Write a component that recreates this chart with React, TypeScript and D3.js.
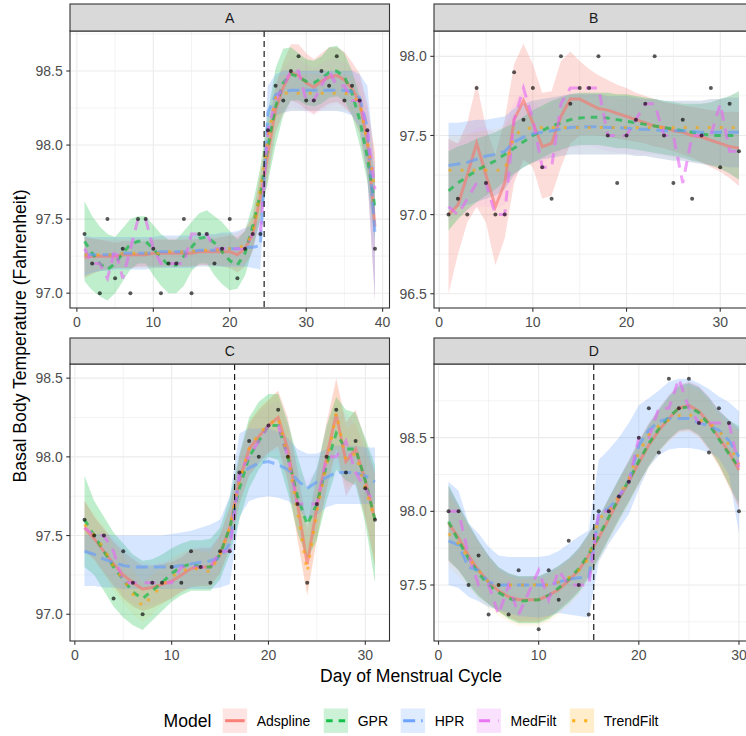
import React from "react";
import * as d3 from "d3";

const MODELS = ["Adspline", "GPR", "HPR", "MedFilt", "TrendFilt"];
const MODEL_COLORS = ["#F8766D", "#00BA38", "#619CFF", "#E76BF3", "#FFA500"];
const MODEL_DASH = ["", "6.5 6", "12 6", "11 8", "3 9"];
const RIBBON_OPACITY = [0.25, 0.25, 0.25, 0.07, 0.07];

// ---------------- Panel A ----------------
const A_days = [1,2,3,4,5,6,7,8,9,10,11,12,13,14,15,16,17,18,19,20,21,22,23,24,25,26,27,28,29,30,31,32,33,34,35,36,37,38,39];
const A_temp = [97.4,97.2,97.0,97.5,97.1,97.3,97.0,97.5,97.5,97.3,97.0,97.2,97.2,97.5,97.0,97.4,97.4,97.2,97.3,97.5,97.1,97.3,97.4,97.4,98.1,98.4,98.3,98.5,98.6,98.3,98.3,98.5,98.4,98.6,98.3,98.4,98.3,98.1,97.3];
const A_ad = [97.24,97.25,97.25,97.25,97.25,97.26,97.26,97.26,97.26,97.27,97.27,97.27,97.27,97.27,97.27,97.28,97.28,97.28,97.28,97.28,97.26,97.30,97.40,97.65,97.94,98.24,98.39,98.49,98.47,98.42,98.39,98.43,98.46,98.47,98.44,98.38,98.29,98.03,97.45];
const A_ad_lo = [97.10,97.13,97.15,97.16,97.17,97.17,97.17,97.18,97.18,97.18,97.18,97.18,97.18,97.18,97.18,97.19,97.19,97.19,97.18,97.17,97.14,97.18,97.28,97.50,97.78,98.08,98.22,98.30,98.28,98.24,98.21,98.25,98.28,98.29,98.26,98.20,98.08,97.78,96.95];
const A_ad_hi = [97.38,97.37,97.36,97.35,97.34,97.35,97.35,97.35,97.35,97.36,97.36,97.36,97.36,97.36,97.36,97.37,97.37,97.37,97.38,97.39,97.38,97.42,97.52,97.80,98.10,98.40,98.56,98.68,98.68,98.62,98.58,98.62,98.66,98.66,98.63,98.56,98.48,98.28,97.95];
const A_gpr = [97.35,97.27,97.20,97.16,97.20,97.27,97.33,97.35,97.35,97.30,97.24,97.19,97.19,97.25,97.31,97.37,97.38,97.34,97.28,97.22,97.19,97.27,97.45,97.67,97.99,98.26,98.42,98.48,98.46,98.43,98.42,98.45,98.49,98.50,98.46,98.35,98.17,97.92,97.58];
const A_gpr_lo = [97.08,97.02,96.98,96.95,97.00,97.08,97.16,97.20,97.20,97.12,97.05,97.00,97.00,97.05,97.15,97.20,97.20,97.12,97.06,97.02,97.03,97.12,97.30,97.50,97.75,98.00,98.20,98.30,98.30,98.27,98.26,98.28,98.32,98.33,98.30,98.20,98.00,97.75,97.35];
const A_gpr_hi = [97.62,97.52,97.45,97.40,97.38,97.44,97.50,97.52,97.52,97.46,97.40,97.36,97.36,97.42,97.48,97.54,97.56,97.52,97.48,97.42,97.36,97.42,97.60,97.85,98.22,98.52,98.65,98.66,98.62,98.58,98.57,98.60,98.66,98.67,98.62,98.50,98.33,98.08,97.80];
const A_hpr = [97.26,97.26,97.26,97.26,97.26,97.27,97.27,97.27,97.27,97.27,97.28,97.28,97.28,97.28,97.28,97.29,97.29,97.29,97.30,97.30,97.30,97.31,97.31,97.32,98.22,98.34,98.36,98.37,98.37,98.37,98.37,98.37,98.37,98.37,98.37,98.36,98.32,98.12,97.40];
const A_hpr_lo = [97.12,97.14,97.15,97.15,97.16,97.16,97.16,97.16,97.16,97.17,97.17,97.17,97.17,97.17,97.17,97.18,97.18,97.18,97.18,97.18,97.18,97.18,97.17,97.16,98.05,98.20,98.22,98.23,98.23,98.23,98.23,98.23,98.23,98.23,98.22,98.20,98.12,97.80,96.95];
const A_hpr_hi = [97.39,97.38,97.38,97.38,97.38,97.38,97.38,97.38,97.38,97.38,97.39,97.39,97.39,97.39,97.39,97.40,97.40,97.40,97.41,97.41,97.42,97.44,97.46,97.50,98.40,98.48,98.50,98.50,98.50,98.50,98.50,98.50,98.50,98.50,98.50,98.50,98.48,98.40,97.85];
const A_med = [97.3,97.2,97.2,97.1,97.3,97.1,97.3,97.5,97.5,97.3,97.2,97.2,97.2,97.2,97.4,97.4,97.4,97.3,97.3,97.3,97.3,97.3,97.4,97.4,98.1,98.3,98.4,98.5,98.5,98.3,98.3,98.4,98.5,98.4,98.4,98.3,98.3,98.1,97.7];
const A_med_lo = [97.12,97.14,97.15,97.16,97.17,97.17,97.17,97.18,97.18,97.18,97.18,97.18,97.18,97.18,97.18,97.19,97.19,97.19,97.18,97.18,97.17,97.20,97.30,97.52,97.80,98.10,98.20,98.26,98.25,98.22,98.20,98.23,98.26,98.27,98.25,98.20,98.08,97.80,96.95];
const A_med_hi = [97.38,97.37,97.36,97.36,97.36,97.36,97.36,97.37,97.37,97.37,97.37,97.37,97.37,97.37,97.38,97.39,97.39,97.39,97.40,97.40,97.41,97.44,97.54,97.80,98.10,98.40,98.52,98.58,98.58,98.55,98.52,98.55,98.58,98.58,98.56,98.52,98.45,98.25,97.90];
const A_trend = [97.26,97.26,97.26,97.26,97.26,97.27,97.27,97.27,97.27,97.27,97.27,97.28,97.28,97.28,97.28,97.29,97.29,97.29,97.30,97.30,97.31,97.32,97.40,97.70,98.05,98.32,98.35,98.35,98.35,98.35,98.35,98.35,98.35,98.35,98.35,98.34,98.28,98.02,97.70];
const A_trend_lo = [97.14,97.15,97.16,97.16,97.17,97.17,97.17,97.17,97.17,97.17,97.17,97.18,97.18,97.18,97.18,97.18,97.18,97.18,97.19,97.19,97.19,97.20,97.28,97.55,97.88,98.18,98.22,98.23,98.23,98.23,98.23,98.23,98.23,98.23,98.23,98.22,98.14,97.85,97.45];
const A_trend_hi = [97.38,97.37,97.37,97.37,97.37,97.37,97.37,97.37,97.37,97.37,97.38,97.38,97.38,97.38,97.38,97.39,97.39,97.39,97.40,97.40,97.41,97.44,97.52,97.85,98.20,98.46,98.48,98.48,98.48,98.48,98.48,98.48,98.48,98.48,98.48,98.47,98.42,98.20,97.95];

// ---------------- Panel B ----------------
const B_days = [1,2,3,4,5,6,7,8,9,10,11,12,13,14,15,16,17,18,19,20,21,22,23,24,25,26,27,28,29,30,31,32];
const B_temp = [97.0,97.1,97.0,97.8,97.2,97.0,97.0,97.9,97.6,97.8,97.3,97.1,98.0,97.7,97.8,97.8,98.0,97.5,97.2,97.5,97.6,97.7,98.0,97.5,97.2,97.6,97.1,97.5,97.8,97.3,97.7,97.4];
const B_ad = [97.00,97.06,97.25,97.45,97.25,97.05,97.20,97.60,97.72,97.58,97.43,97.45,97.62,97.73,97.73,97.70,97.67,97.66,97.64,97.62,97.60,97.58,97.56,97.55,97.53,97.52,97.50,97.49,97.47,97.45,97.43,97.42];
const B_ad_lo = [96.50,96.75,96.95,97.05,96.95,96.68,96.85,97.20,97.35,97.30,97.10,97.12,97.30,97.45,97.50,97.50,97.50,97.49,97.48,97.47,97.46,97.45,97.43,97.42,97.40,97.38,97.36,97.33,97.30,97.27,97.23,97.18];
const B_ad_hi = [97.48,97.45,97.58,97.83,97.55,97.38,97.60,97.95,98.08,97.95,97.77,97.78,97.97,98.03,97.97,97.92,97.88,97.85,97.82,97.80,97.77,97.75,97.73,97.71,97.70,97.69,97.68,97.67,97.66,97.65,97.65,97.65];
const B_gpr = [97.15,97.20,97.24,97.28,97.31,97.34,97.38,97.42,97.46,97.50,97.53,97.56,97.58,97.60,97.61,97.615,97.615,97.61,97.60,97.59,97.58,97.57,97.56,97.55,97.54,97.53,97.52,97.51,97.50,97.50,97.50,97.50];
const B_gpr_lo = [96.90,96.97,97.03,97.08,97.12,97.16,97.21,97.26,97.30,97.33,97.36,97.39,97.41,97.43,97.44,97.44,97.44,97.43,97.42,97.42,97.41,97.40,97.39,97.38,97.37,97.36,97.34,97.33,97.31,97.29,97.26,97.22];
const B_gpr_hi = [97.40,97.43,97.45,97.48,97.50,97.52,97.55,97.58,97.62,97.66,97.69,97.72,97.74,97.76,97.77,97.77,97.77,97.77,97.76,97.76,97.75,97.74,97.73,97.72,97.71,97.70,97.70,97.70,97.71,97.73,97.75,97.78];
const B_hpr = [97.31,97.32,97.33,97.35,97.37,97.38,97.40,97.46,97.49,97.51,97.52,97.53,97.54,97.55,97.555,97.555,97.555,97.55,97.55,97.545,97.54,97.54,97.535,97.53,97.53,97.53,97.525,97.52,97.52,97.52,97.52,97.52];
const B_hpr_lo = [97.03,97.05,97.06,97.08,97.10,97.12,97.16,97.25,97.30,97.33,97.35,97.36,97.37,97.38,97.38,97.38,97.38,97.38,97.38,97.38,97.37,97.37,97.36,97.35,97.34,97.34,97.33,97.32,97.31,97.31,97.30,97.30];
const B_hpr_hi = [97.58,97.58,97.59,97.60,97.60,97.61,97.62,97.67,97.70,97.72,97.73,97.74,97.75,97.76,97.76,97.76,97.76,97.75,97.75,97.75,97.74,97.73,97.73,97.72,97.72,97.72,97.72,97.72,97.73,97.73,97.74,97.74];
const B_med = [97.05,97.0,97.1,97.2,97.2,97.0,97.0,97.6,97.8,97.6,97.3,97.3,97.7,97.8,97.8,97.8,97.8,97.5,97.5,97.5,97.6,97.7,97.7,97.5,97.5,97.2,97.5,97.5,97.5,97.7,97.4,97.4];
const B_med_lo = [96.95,96.98,97.02,97.05,97.05,97.04,97.06,97.22,97.33,97.33,97.33,97.36,97.40,97.42,97.43,97.43,97.42,97.40,97.39,97.39,97.38,97.38,97.38,97.37,97.36,97.35,97.34,97.33,97.31,97.29,97.26,97.22];
const B_med_hi = [97.45,97.45,97.50,97.55,97.55,97.52,97.55,97.72,97.78,97.72,97.66,97.70,97.75,97.77,97.77,97.77,97.76,97.74,97.73,97.73,97.73,97.73,97.72,97.71,97.70,97.69,97.69,97.70,97.71,97.73,97.75,97.78];
const B_trend = [97.28,97.28,97.28,97.28,97.28,97.28,97.28,97.50,97.54,97.55,97.55,97.55,97.55,97.55,97.55,97.55,97.55,97.55,97.55,97.55,97.55,97.55,97.55,97.55,97.55,97.55,97.55,97.55,97.55,97.55,97.55,97.55];
const B_trend_lo = [97.05,97.06,97.07,97.08,97.10,97.12,97.16,97.25,97.30,97.33,97.35,97.36,97.37,97.38,97.38,97.38,97.38,97.38,97.38,97.38,97.37,97.37,97.36,97.35,97.34,97.34,97.33,97.32,97.31,97.31,97.30,97.30];
const B_trend_hi = [97.50,97.50,97.51,97.52,97.53,97.54,97.56,97.64,97.69,97.72,97.73,97.74,97.75,97.76,97.76,97.76,97.76,97.75,97.75,97.75,97.74,97.73,97.73,97.72,97.72,97.72,97.72,97.72,97.73,97.73,97.74,97.74];

// ---------------- Panel C ----------------
const C_days = [1,2,3,4,5,6,7,8,9,10,11,12,13,14,15,16,17,18,19,20,21,22,23,24,25,26,27,28,29,30,31];
const C_temp = [97.6,97.5,97.5,97.1,97.4,97.2,97.0,97.2,97.2,97.3,97.2,97.4,97.3,97.2,97.4,97.4,97.9,98.1,98.0,98.2,98.3,98.0,97.7,97.2,97.7,98.0,98.3,97.9,98.1,97.8,97.6];
const C_ad = [97.55,97.48,97.40,97.32,97.25,97.20,97.16,97.17,97.19,97.21,97.25,97.29,97.30,97.30,97.38,97.55,97.85,98.05,98.13,98.20,98.25,98.05,97.70,97.32,97.68,98.00,98.27,97.97,98.05,97.85,97.60];
const C_ad_lo = [97.40,97.35,97.26,97.18,97.10,97.05,97.02,97.04,97.07,97.10,97.14,97.17,97.18,97.18,97.26,97.42,97.70,97.88,97.96,98.03,98.07,97.85,97.48,97.12,97.48,97.80,98.05,97.75,97.85,97.62,97.30];
const C_ad_hi = [97.72,97.62,97.54,97.46,97.40,97.35,97.31,97.31,97.32,97.33,97.36,97.41,97.42,97.42,97.50,97.68,98.00,98.22,98.30,98.36,98.42,98.25,97.92,97.55,97.90,98.22,98.50,98.22,98.30,98.10,97.90];
const C_gpr = [97.60,97.50,97.40,97.30,97.22,97.14,97.10,97.15,97.20,97.26,97.30,97.32,97.30,97.30,97.38,97.55,97.80,98.00,98.10,98.20,98.20,98.00,97.75,97.57,97.70,97.95,98.15,98.05,98.05,97.85,97.60];
const C_gpr_lo = [97.30,97.25,97.15,97.05,96.98,96.93,96.90,96.96,97.02,97.08,97.12,97.15,97.15,97.15,97.22,97.38,97.60,97.80,97.92,98.00,97.98,97.77,97.52,97.35,97.47,97.72,97.92,97.85,97.82,97.58,97.20];
const C_gpr_hi = [97.88,97.72,97.62,97.52,97.45,97.38,97.34,97.35,97.38,97.42,97.45,97.47,97.47,97.48,97.55,97.74,98.02,98.25,98.35,98.40,98.40,98.22,98.00,97.80,97.93,98.20,98.38,98.30,98.28,98.12,97.95];
const C_hpr = [97.40,97.38,97.35,97.33,97.31,97.30,97.30,97.30,97.30,97.30,97.31,97.32,97.33,97.34,97.36,97.45,97.88,97.93,97.96,97.97,97.95,97.92,97.85,97.80,97.84,97.87,97.90,97.90,97.90,97.88,97.84];
const C_hpr_lo = [97.18,97.18,97.17,97.17,97.16,97.16,97.16,97.16,97.16,97.16,97.16,97.16,97.16,97.16,97.17,97.19,97.62,97.72,97.74,97.75,97.74,97.72,97.68,97.60,97.63,97.68,97.70,97.70,97.70,97.70,97.70];
const C_hpr_hi = [97.50,97.51,97.51,97.50,97.50,97.50,97.50,97.50,97.50,97.51,97.52,97.53,97.55,97.57,97.60,97.75,98.15,98.18,98.18,98.18,98.16,98.12,98.05,98.02,98.02,98.05,98.07,98.07,98.07,98.06,98.06];
const C_med = [97.55,97.5,97.5,97.4,97.2,97.2,97.2,97.2,97.2,97.2,97.3,97.3,97.3,97.3,97.4,97.4,97.9,98.0,98.1,98.2,98.2,98.0,97.7,97.7,97.7,98.0,98.0,98.1,97.9,97.8,97.7];
const C_med_lo = [97.40,97.36,97.28,97.20,97.12,97.07,97.05,97.06,97.08,97.11,97.15,97.18,97.19,97.19,97.27,97.43,97.72,97.88,97.96,98.02,98.04,97.84,97.52,97.42,97.52,97.78,97.96,97.82,97.82,97.62,97.35];
const C_med_hi = [97.72,97.62,97.55,97.48,97.42,97.37,97.33,97.32,97.33,97.35,97.38,97.42,97.43,97.43,97.51,97.68,98.02,98.20,98.28,98.33,98.36,98.20,97.92,97.85,97.92,98.18,98.30,98.28,98.20,98.05,97.90];
const C_trend = [97.57,97.50,97.42,97.30,97.22,97.13,97.05,97.12,97.18,97.24,97.27,97.30,97.28,97.27,97.38,97.55,97.85,98.05,98.15,98.20,98.25,98.00,97.65,97.27,97.65,97.95,98.28,97.98,98.02,97.80,97.60];
const C_trend_lo = [97.40,97.34,97.26,97.15,97.07,97.00,96.95,97.00,97.06,97.11,97.15,97.18,97.17,97.16,97.25,97.42,97.70,97.88,97.98,98.03,98.06,97.83,97.47,97.12,97.47,97.78,98.06,97.80,97.83,97.60,97.32];
const C_trend_hi = [97.72,97.64,97.56,97.45,97.37,97.28,97.20,97.25,97.30,97.36,97.39,97.42,97.40,97.39,97.50,97.68,98.00,98.22,98.32,98.37,98.42,98.18,97.85,97.45,97.85,98.15,98.48,98.18,98.22,98.02,97.88];

// ---------------- Panel D ----------------
const D_days = [1,2,3,4,5,6,7,8,10,11,12,13,14,15,16,17,18,19,20,21,22,23,24,25,26,27,28,29,30];
const D_temp = [98.0,98.0,97.5,97.7,97.3,97.5,97.3,97.6,97.2,97.6,97.4,97.8,97.5,97.3,98.0,98.0,98.1,98.2,98.5,98.7,98.4,98.9,98.7,98.9,98.6,98.4,98.7,98.6,98.0];
const D_ad = [97.92,97.82,97.70,97.60,97.52,97.46,97.42,97.40,97.40,97.43,97.47,97.53,97.60,97.70,97.82,97.95,98.08,98.20,98.33,98.45,98.55,98.63,98.70,98.72,98.68,98.60,98.50,98.40,98.28];
const D_ad_lo = [97.66,97.60,97.51,97.43,97.37,97.32,97.28,97.25,97.25,97.28,97.33,97.39,97.46,97.56,97.69,97.82,97.95,98.07,98.19,98.31,98.41,98.48,98.54,98.55,98.51,98.42,98.31,98.17,98.02];
const D_ad_hi = [98.17,98.04,97.91,97.80,97.70,97.62,97.58,97.56,97.56,97.59,97.63,97.68,97.75,97.85,97.96,98.09,98.22,98.35,98.48,98.60,98.70,98.79,98.86,98.88,98.85,98.78,98.69,98.62,98.56];
const D_gpr = [97.93,97.80,97.68,97.58,97.50,97.45,97.41,97.39,97.40,97.43,97.48,97.54,97.61,97.71,97.83,97.96,98.09,98.21,98.34,98.46,98.56,98.64,98.70,98.71,98.67,98.59,98.49,98.39,98.30];
const D_gpr_lo = [97.67,97.60,97.50,97.42,97.37,97.32,97.27,97.24,97.24,97.27,97.32,97.38,97.45,97.55,97.68,97.81,97.94,98.06,98.19,98.31,98.41,98.49,98.55,98.56,98.52,98.43,98.32,98.18,98.05];
const D_gpr_hi = [98.18,98.05,97.92,97.80,97.70,97.62,97.58,97.56,97.56,97.59,97.63,97.68,97.75,97.85,97.96,98.09,98.22,98.34,98.47,98.59,98.69,98.78,98.85,98.87,98.84,98.77,98.68,98.62,98.58];
const D_hpr = [97.80,97.77,97.62,97.60,97.52,97.50,97.50,97.50,97.50,97.50,97.52,97.54,97.55,97.55,97.98,98.02,98.10,98.20,98.45,98.55,98.61,98.63,98.63,98.63,98.60,98.58,98.55,98.48,98.37];
const D_hpr_lo = [97.50,97.48,97.42,97.39,97.35,97.33,97.31,97.29,97.28,97.29,97.31,97.30,97.29,97.28,97.66,97.78,97.88,97.98,98.15,98.30,98.38,98.42,98.43,98.43,98.42,98.40,98.36,98.25,97.85];
const D_hpr_hi = [98.20,98.14,97.92,97.85,97.76,97.70,97.69,97.69,97.69,97.70,97.73,97.78,97.83,97.87,98.35,98.42,98.50,98.60,98.72,98.77,98.82,98.88,98.90,98.90,98.87,98.83,98.78,98.74,98.68];
const D_med = [98.0,98.0,97.7,97.5,97.5,97.3,97.5,97.3,97.6,97.4,97.6,97.5,97.5,97.5,98.0,98.0,98.1,98.2,98.5,98.5,98.7,98.7,98.9,98.7,98.6,98.6,98.6,98.6,98.3];
const D_med_lo = [97.68,97.61,97.52,97.44,97.38,97.33,97.29,97.26,97.26,97.29,97.34,97.40,97.47,97.57,97.70,97.83,97.96,98.08,98.20,98.32,98.42,98.49,98.55,98.56,98.52,98.43,98.32,98.18,98.04];
const D_med_hi = [98.16,98.04,97.91,97.79,97.69,97.61,97.57,97.55,97.55,97.58,97.62,97.67,97.74,97.84,97.95,98.08,98.21,98.34,98.47,98.59,98.69,98.78,98.85,98.87,98.84,98.77,98.68,98.61,98.56];
const D_trend = [97.85,97.78,97.68,97.60,97.52,97.50,97.50,97.50,97.50,97.50,97.52,97.55,97.60,97.68,97.95,98.00,98.10,98.22,98.40,98.52,98.58,98.62,98.65,98.66,98.62,98.60,98.55,98.45,98.32];
const D_trend_lo = [97.62,97.56,97.48,97.40,97.34,97.29,97.25,97.22,97.22,97.25,97.30,97.36,97.43,97.53,97.66,97.79,97.92,98.04,98.17,98.29,98.39,98.47,98.53,98.54,98.50,98.41,98.30,98.16,98.02];
const D_trend_hi = [98.12,98.02,97.90,97.78,97.68,97.60,97.56,97.54,97.54,97.57,97.61,97.66,97.73,97.83,97.94,98.07,98.20,98.32,98.45,98.57,98.67,98.76,98.83,98.85,98.82,98.75,98.66,98.58,98.54];

// ---------------- Axis / facet config ----------------
const A_xTicks = [0, 10, 20, 30, 40];
const B_xTicks = [0, 10, 20, 30];
const C_xTicks = [0, 10, 20, 30];
const D_xTicks = [0, 10, 20, 30];
const A_yTicks = [97.0, 97.5, 98.0, 98.5];
const B_yTicks = [96.5, 97.0, 97.5, 98.0];
const C_yTicks = [97.0, 97.5, 98.0, 98.5];
const D_yTicks = [97.5, 98.0, 98.5];

const PANELS = [
  { name: "A", col: 0, row: 0, days: A_days, temp: A_temp, vline: 24.5, yDomain: [96.9, 98.77], xTicks: A_xTicks, yTicks: A_yTicks,
    lines: [A_ad, A_gpr, A_hpr, A_med, A_trend],
    ribbons: [[A_ad_lo, A_ad_hi], [A_gpr_lo, A_gpr_hi], [A_hpr_lo, A_hpr_hi], [A_med_lo, A_med_hi], [A_trend_lo, A_trend_hi]] },
  { name: "B", col: 1, row: 0, days: B_days, temp: B_temp, vline: null, yDomain: [96.41, 98.16], xTicks: B_xTicks, yTicks: B_yTicks,
    lines: [B_ad, B_gpr, B_hpr, B_med, B_trend],
    ribbons: [[B_ad_lo, B_ad_hi], [B_gpr_lo, B_gpr_hi], [B_hpr_lo, B_hpr_hi], [B_med_lo, B_med_hi], [B_trend_lo, B_trend_hi]] },
  { name: "C", col: 0, row: 1, days: C_days, temp: C_temp, vline: 16.5, yDomain: [96.83, 98.59], xTicks: C_xTicks, yTicks: C_yTicks,
    lines: [C_ad, C_gpr, C_hpr, C_med, C_trend],
    ribbons: [[C_ad_lo, C_ad_hi], [C_gpr_lo, C_gpr_hi], [C_hpr_lo, C_hpr_hi], [C_med_lo, C_med_hi], [C_trend_lo, C_trend_hi]] },
  { name: "D", col: 1, row: 1, days: D_days, temp: D_temp, vline: 15.5, yDomain: [97.12, 99.0], xTicks: D_xTicks, yTicks: D_yTicks,
    lines: [D_ad, D_gpr, D_hpr, D_med, D_trend],
    ribbons: [[D_ad_lo, D_ad_hi], [D_gpr_lo, D_gpr_hi], [D_hpr_lo, D_hpr_hi], [D_med_lo, D_med_hi], [D_trend_lo, D_trend_hi]] },
];

const FONT = "'Liberation Sans', Arial, Helvetica, sans-serif";
const W = 746, H = 736;
const COLS = [70, 434];
const PW = 319.5;
const ROWS = [
  { stripTop: 4, plotTop: 31, plotBottom: 308 },
  { stripTop: 338, plotTop: 364, plotBottom: 641 },
];
const GRID = "#EBEBEB";
const DARK = "#333333";
const LINE_W = 3;
const LINE_OP = 0.62;

function minorsOf(ticks: number[], dom: number[]) {
  const step = ticks[1] - ticks[0];
  const out: number[] = [];
  for (let v = ticks[0] - step / 2; v <= ticks[ticks.length - 1] + step / 2 + 1e-9; v += step) {
    if (v > dom[0] && v < dom[1]) out.push(v);
  }
  return out;
}

function Panel({ p }: { p: any }) {
  const { stripTop, plotTop, plotBottom } = ROWS[p.row];
  const x0 = COLS[p.col];
  const x1 = x0 + PW;
  const [mn, mx] = d3.extent(p.days as number[]) as [number, number];
  const pad = (mx - mn) * 0.05;
  const xDom = [mn - pad, mx + pad];
  const x = d3.scaleLinear().domain(xDom).range([x0, x1]);
  const y = d3.scaleLinear().domain(p.yDomain).range([plotBottom, plotTop]);
  const days: number[] = p.days;
  const lineGen = d3.line<number>().x((_, i) => x(days[i])).y((v) => y(v));
  const areaGen = (lo: number[], hi: number[]) =>
    d3.area<number>().x((_, i) => x(days[i])).y0((_, i) => y(lo[i])).y1((_, i) => y(hi[i]))(lo) || "";
  const xMinor = minorsOf(p.xTicks, xDom);
  const yMinor = minorsOf(p.yTicks, p.yDomain);
  const clipId = "clip" + p.name;
  const fmtY = d3.format(".1f");
  return (
    <g>
      <defs>
        <clipPath id={clipId}>
          <rect x={x0} y={plotTop} width={PW} height={plotBottom - plotTop} />
        </clipPath>
      </defs>
      <rect x={x0} y={plotTop} width={PW} height={plotBottom - plotTop} fill="#fff" />
      {xMinor.map((v) => (
        <line key={"xm" + v} x1={x(v)} x2={x(v)} y1={plotTop} y2={plotBottom} stroke={GRID} strokeWidth={0.6} />
      ))}
      {yMinor.map((v) => (
        <line key={"ym" + v} x1={x0} x2={x1} y1={y(v)} y2={y(v)} stroke={GRID} strokeWidth={0.6} />
      ))}
      {p.xTicks.map((v: number) => (
        <line key={"xg" + v} x1={x(v)} x2={x(v)} y1={plotTop} y2={plotBottom} stroke={GRID} strokeWidth={1.1} />
      ))}
      {p.yTicks.map((v: number) => (
        <line key={"yg" + v} x1={x0} x2={x1} y1={y(v)} y2={y(v)} stroke={GRID} strokeWidth={1.1} />
      ))}
      <g clipPath={`url(#${clipId})`}>
        {p.ribbons.map((r: number[][], i: number) => (
          <path key={"rb" + i} d={areaGen(r[0], r[1])} fill={MODEL_COLORS[i]} fillOpacity={RIBBON_OPACITY[i]} stroke="none" />
        ))}
        {p.lines.map((vals: number[], i: number) => (
          <path
            key={"ln" + i}
            d={lineGen(vals) || ""}
            fill="none"
            stroke={MODEL_COLORS[i]}
            strokeOpacity={LINE_OP}
            strokeWidth={LINE_W}
            strokeDasharray={MODEL_DASH[i] || undefined}
          />
        ))}
        {p.temp.map((v: number, i: number) => (
          <circle key={"pt" + i} cx={x(days[i])} cy={y(v)} r={2} fill="#000" fillOpacity={0.65} />
        ))}
        {p.vline != null && (
          <line x1={x(p.vline)} x2={x(p.vline)} y1={plotTop} y2={plotBottom} stroke="#1a1a1a" strokeWidth={1.2} strokeDasharray="6 4" />
        )}
      </g>
      <rect x={x0} y={plotTop} width={PW} height={plotBottom - plotTop} fill="none" stroke={DARK} strokeWidth={1.1} />
      <rect x={x0} y={stripTop} width={PW} height={plotTop - stripTop} fill="#D9D9D9" stroke={DARK} strokeWidth={1.1} />
      <text x={x0 + PW / 2} y={(stripTop + plotTop) / 2} dy="0.36em" textAnchor="middle" fontFamily={FONT} fontSize={14} fill="#1A1A1A">
        {p.name}
      </text>
      {p.xTicks.map((v: number) => (
        <g key={"xt" + v}>
          <line x1={x(v)} x2={x(v)} y1={plotBottom} y2={plotBottom + 3.7} stroke={DARK} strokeWidth={1.1} />
          <text x={x(v)} y={plotBottom + 19} textAnchor="middle" fontFamily={FONT} fontSize={14} fill="#4D4D4D">
            {v}
          </text>
        </g>
      ))}
      {p.yTicks.map((v: number) => (
        <g key={"yt" + v}>
          <line x1={x0 - 3.7} x2={x0} y1={y(v)} y2={y(v)} stroke={DARK} strokeWidth={1.1} />
          <text x={x0 - 7.3} y={y(v)} dy="0.36em" textAnchor="end" fontFamily={FONT} fontSize={14} fill="#4D4D4D">
            {fmtY(v)}
          </text>
        </g>
      ))}
    </g>
  );
}

const LEGEND_KEY_X = [222.7, 323.7, 400.7, 476.6, 569.8];
const LEGEND_TOP = 708.5;
const KEY = 24.4;

export default function App() {
  return (
    <svg width={W} height={H} style={{ position: "absolute", left: 0, top: 0, background: "#fff" }} xmlns="http://www.w3.org/2000/svg">
      <rect x={0} y={0} width={W} height={H} fill="#fff" />
      {PANELS.map((p) => (
        <Panel key={p.name} p={p} />
      ))}
      <text transform="translate(26,336) rotate(-90)" textAnchor="middle" fontFamily={FONT} fontSize={17.6} fill="#000">
        Basal Body Temperature (Fahrenheit)
      </text>
      <text x={411} y={682} textAnchor="middle" fontFamily={FONT} fontSize={17.6} fill="#000">
        Day of Menstrual Cycle
      </text>
      <text x={163.6} y={LEGEND_TOP + KEY / 2} dy="0.36em" fontFamily={FONT} fontSize={17.6} fill="#000">
        Model
      </text>
      {MODELS.map((m, i) => {
        const kx = LEGEND_KEY_X[i];
        const cy = LEGEND_TOP + KEY / 2;
        return (
          <g key={m}>
            <rect x={kx} y={LEGEND_TOP} width={KEY} height={KEY} fill={MODEL_COLORS[i]} fillOpacity={0.2} />
            <line x1={kx + KEY * 0.1} x2={kx + KEY * 0.9} y1={cy} y2={cy} stroke={MODEL_COLORS[i]} strokeOpacity={0.9}
              strokeWidth={LINE_W} strokeDasharray={MODEL_DASH[i] || undefined} />
            <text x={kx + KEY + 9.6} y={cy} dy="0.36em" fontFamily={FONT} fontSize={14} fill="#000">
              {m}
            </text>
          </g>
        );
      })}
    </svg>
  );
}
